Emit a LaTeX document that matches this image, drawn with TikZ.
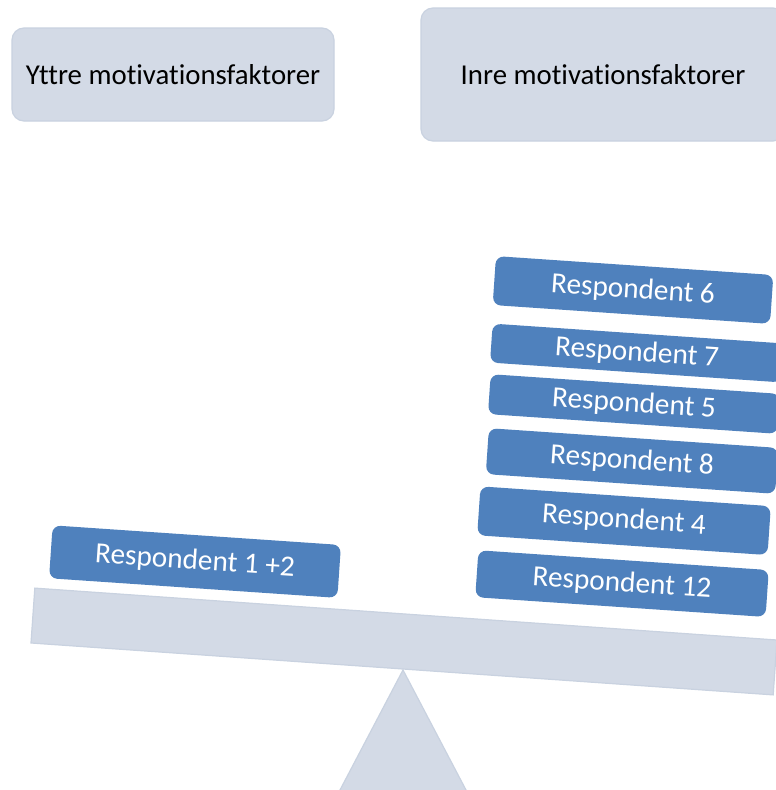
\documentclass[tikz,border=0pt]{standalone}
\usepackage{fontspec}
\setmainfont{Carlito}[Ligatures=NoCommon]
\definecolor{resp}{RGB}{79,129,189}
\definecolor{lightbox}{RGB}{211,218,230}
\definecolor{lightline}{RGB}{201,210,224}
\tikzset{
  factor/.style={fill=lightbox,draw=lightline,line width=1.2pt,rounded corners=12pt,
    inner sep=0pt,font=\fontsize{28.8}{34}\selectfont},
  respbox/.style={fill=resp,draw=none,rounded corners=8pt,inner sep=0pt,text=white,
    rotate=-3.9,font=\fontsize{29.3}{35}\selectfont}
}
\begin{document}
\begin{tikzpicture}[x=1pt,y=-1pt]
  \useasboundingbox (0,0) rectangle (776,790);
  \clip (0,0) rectangle (776,790);
  \fill[white] (0,0) rectangle (776,790);
  \node[factor,minimum width=322pt,minimum height=93pt] (yttre) at (173,74.5) {Yttre motivationsfaktorer};
  \node[factor,minimum width=364pt,minimum height=133pt] (inre) at (603,74.5) {Inre motivationsfaktorer};
  \fill[lightbox,draw=lightline,line width=1.2pt] (403,670) -- (319,830) -- (487,830) -- cycle;
  \node[fill=lightbox,draw=lightline,line width=1.2pt,inner sep=0pt,rotate=-4,
    minimum width=744pt,minimum height=55pt] (beam) at (404,641.5) {};
  \node[respbox,minimum width=289pt,minimum height=53pt] (r12a) at (195,561.6) {Respondent 1 +2};
  \node[respbox,minimum width=278pt,minimum height=49pt] (r6) at (633,290) {Respondent 6};
  \node[respbox,minimum width=292pt,minimum height=39pt] (r7) at (637,353) {Respondent 7};
  \node[respbox,minimum width=290pt,minimum height=40pt] (r5) at (634,404) {Respondent 5};
  \node[respbox,minimum width=290pt,minimum height=46pt] (r8) at (632,461) {Respondent 8};
  \node[respbox,minimum width=291pt,minimum height=49pt] (r4) at (624,520.7) {Respondent 4};
  \node[respbox,minimum width=291pt,minimum height=47pt] (r12) at (622,583.6) {Respondent 12};
\end{tikzpicture}
\end{document}
